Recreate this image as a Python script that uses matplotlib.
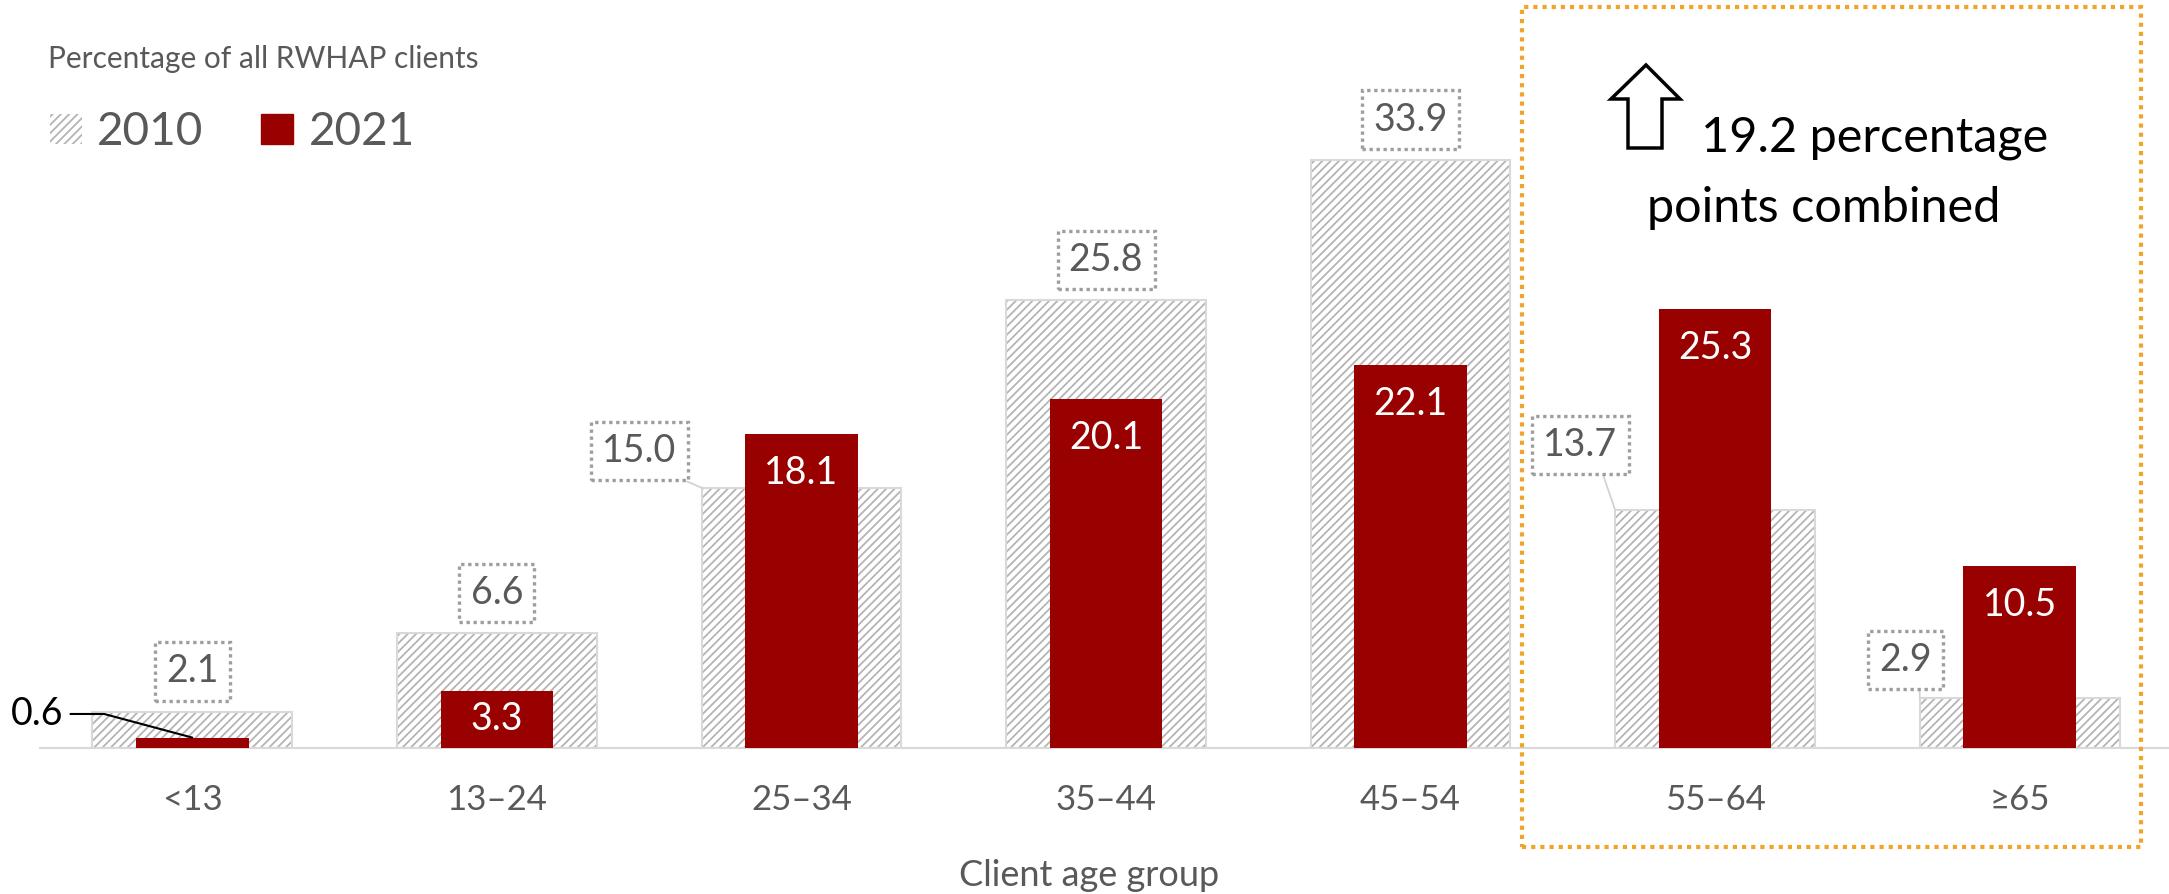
import matplotlib.pyplot as plt
from matplotlib.patches import Patch, Rectangle, Polygon

# data
age_groups = ['<13', '13–24', '25–34', '35–44', '45–54', '55–64', '≥65']
pct_2010 = [2.1, 6.6, 15.0, 25.8, 33.9, 13.7, 2.9]
pct_2021 = [0.6, 3.3, 18.1, 20.1, 22.1, 25.3, 10.5]

# label placement for 2010 boxes: (anchor at bar corner?, dx, dy) in points
box_offsets = [(False, 0, 29), (False, 0, 29), (True, -44.6, 26.6),
               (False, 0, 29), (False, 0, 29), (True, -25, 47), (True, -10, 27)]

RED = '#990000'
GRAY_TXT = '#595959'
W = 2169
H = 894

plt.rcParams['font.family'] = ['Lato', 'DejaVu Sans']
plt.rcParams['hatch.linewidth'] = 1.3

fig = plt.figure(figsize=(W / 100, H / 100), dpi=100)
ax = fig.add_axes([40 / W, 146 / H, 2132 / W, 694 / H])

x = list(range(len(age_groups)))
w_old = 0.656
w_new = 0.37

# 2010 hatched bars + light outline
ax.bar(x, pct_2010, width=w_old, color='white', edgecolor='#b4b4b4',
       hatch='////', linewidth=0, zorder=1)
ax.bar(x, pct_2010, width=w_old, fill=False, edgecolor='#d9d9d9',
       linewidth=1.5, zorder=2)
# 2021 bars
ax.bar(x, pct_2021, width=w_new, color=RED, zorder=3)

ax.set_xlim(-0.5, 6.5)
ax.set_ylim(0, 40)
for s in ['top', 'left', 'right']:
    ax.spines[s].set_visible(False)
ax.spines['bottom'].set_color('#d9d9d9')
ax.spines['bottom'].set_linewidth(1.5)
ax.set_yticks([])
ax.set_xticks(x, age_groups)
ax.tick_params(axis='x', length=0, pad=26, labelsize=25, labelcolor=GRAY_TXT)

# 2010 value boxes
box_style = dict(boxstyle='square,pad=0.3', fc='white', ec='#9e9e9e',
                 ls=(0, (1, 1.1)), lw=2.4)
for i, v in enumerate(pct_2010):
    corner, dx, dy = box_offsets[i]
    if corner:
        ax.annotate(f'{v:.1f}', xy=(i - w_old / 2, v), xytext=(dx, dy),
                    textcoords='offset points', ha='center', va='center',
                    fontsize=27, color=GRAY_TXT, bbox=box_style, zorder=5,
                    arrowprops=dict(arrowstyle='-', color='#d0d0d0', lw=1.2,
                                    shrinkA=0, shrinkB=0, relpos=(0.75, 0)))
    else:
        ax.annotate(f'{v:.1f}', xy=(i, v), xytext=(dx, dy),
                    textcoords='offset points', ha='center', va='center',
                    fontsize=27, color=GRAY_TXT, bbox=box_style, zorder=5)

# 2021 value labels
for i, v in enumerate(pct_2021):
    if v < 1:
        ax.annotate(f'{v:.1f}', xy=(i, v), xytext=(-111.6, 17),
                    textcoords='offset points', ha='center', va='center',
                    fontsize=27, color='black',
                    arrowprops=dict(arrowstyle='-', color='black', lw=1.5,
                                    shrinkA=3, shrinkB=0, relpos=(1, 0.5),
                                    connectionstyle='angle,angleA=0,angleB=165,rad=0'))
        continue
    y = max(v - 2.25, v / 2)
    ax.text(i, y, f'{v:.1f}', ha='center', va='center', fontsize=27,
            color='white', zorder=6)

# title and axis label
fig.text(48 / W, (H - 68) / H, 'Percentage of all RWHAP clients', fontsize=21.5,
         color=GRAY_TXT, ha='left', va='baseline')
fig.text(1089 / W, (H - 876) / H, 'Client age group', fontsize=26,
         color=GRAY_TXT, ha='center', va='center')

# legend
handles = [Patch(facecolor='white', edgecolor='#b4b4b4', hatch='////', lw=0),
           Patch(facecolor=RED, edgecolor=RED)]
leg = fig.legend(handles, ['2010', '2021'], loc='center left',
                 bbox_to_anchor=(50 / W, (H - 132) / H), ncol=2, frameon=False,
                 fontsize=33, handlelength=0.7, handleheight=0.65,
                 handletextpad=0.33, columnspacing=1.26, borderpad=0,
                 borderaxespad=0)
for t in leg.get_texts():
    t.set_color(GRAY_TXT)

# highlight box around the older age groups
fig.add_artist(Rectangle((1522 / W, 47 / H), 619 / W, 840 / H,
                         transform=fig.transFigure, fill=False,
                         edgecolor='#F0A428', lw=3, ls=(0, (1, 1.2))))

# hollow up arrow
arrow_px = [(1646, 65), (1680, 99), (1662, 99), (1662, 148),
            (1628, 148), (1628, 99), (1611, 99)]
fig.add_artist(Polygon([(px / W, (H - py) / H) for px, py in arrow_px],
                       closed=True, transform=fig.transFigure, fill=False,
                       edgecolor='black', lw=2.5, joinstyle='miter'))
fig.text(1701 / W, (H - 138) / H, '19.2 percentage', fontsize=35,
         color='black', ha='left', va='center')
fig.text(1824 / W, (H - 208) / H, 'points combined', fontsize=35,
         color='black', ha='center', va='center')

fig.savefig('out.png', dpi=100)
plt.close(fig)
